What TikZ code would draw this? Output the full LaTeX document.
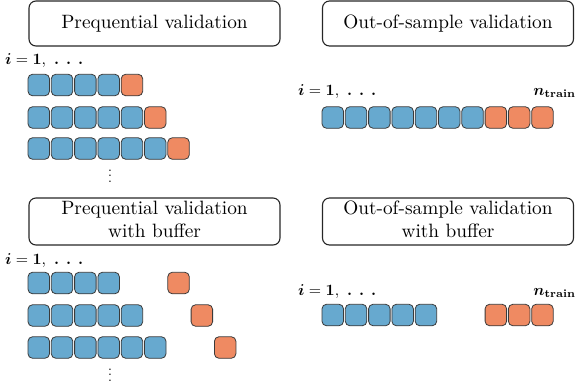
\documentclass[tikz,border=0pt]{standalone}
\usepackage{amsmath,bm,graphicx}
\definecolor{tblue}{HTML}{67A9CF}
\definecolor{torange}{HTML}{EF8A62}
\definecolor{tedge}{HTML}{3A3A3A}
\newcommand{\myTitle}[1]{\scalebox{1.93}{\begin{tabular}{@{}c@{}}#1\end{tabular}}}
\newcommand{\myIlabText}{\scalebox{1.58}{$\bm{i}=\mathbf{1},$\hspace{5pt}$\bm{.}$\hspace{4.4pt}$\bm{.}$\hspace{4.4pt}$\bm{.}$}}
\newcommand{\myNlabText}{\scalebox{1.58}{$\bm{n}_{\mathbf{train}}$}}
\begin{document}
\begin{tikzpicture}[x=1pt,y=-1pt]
\tikzset{
  titlebox/.style={draw=black!85,line width=1.1pt,rounded corners=7pt,minimum height=45pt,minimum width=251pt,inner sep=0pt,align=center,font=\fontsize{10}{12}\selectfont},
  titleboxtall/.style={titlebox,minimum height=47pt},
  sq/.style={draw=tedge,line width=0.8pt,rounded corners=4.5pt,minimum size=21.5pt,inner sep=0pt},
  bsq/.style={sq,fill=tblue},
  osq/.style={sq,fill=torange},
  mylab/.style={inner sep=0pt,font=\fontsize{10}{12}\selectfont},
}
\useasboundingbox (0,0) rectangle (581,384);
% titles
\node[titlebox] (t1) at (154.5,23.5) {\myTitle{Prequential validation}};
\node[titlebox] (t2) at (448,23.5) {\myTitle{Out-of-sample validation}};
\node[titleboxtall] (t3) at (154.5,221.5) {\myTitle{Prequential validation\\with buffer}};
\node[titleboxtall] (t4) at (448,221.5) {\myTitle{Out-of-sample validation\\with buffer}};
% labels
\node[mylab,anchor=base west] (la) at (5,64) {\myIlabText};
\node[mylab,anchor=base west] (lc) at (5,264) {\myIlabText};
\node[mylab,anchor=base west] (lb) at (298,95) {\myIlabText};
\node[mylab,anchor=base west] (ld) at (298,295) {\myIlabText};
\node[mylab,anchor=base east] (nb) at (576,95) {\myNlabText};
\node[mylab,anchor=base east] (nd) at (576,295) {\myNlabText};
% prequential
\foreach \r/\y in {1/85,2/117.5,3/148.5}{
  \pgfmathtruncatemacro{\nb}{\r+3}
  \pgfmathtruncatemacro{\nl}{\r+2}
  \foreach \k in {0,...,\nl}{\node[bsq] (p\r b\k) at (38.75+23.3*\k,\y) {};}
  \node[osq] (p\r o) at (38.75+23.3*\nb,\y) {};
}
\node[mylab] (d1) at (110,172) {\scalebox{1.4}{$\vdots$}};
% prequential with buffer
\foreach \r/\y in {1/283,2/315.5,3/347.5}{
  \pgfmathtruncatemacro{\nb}{\r+5}
  \pgfmathtruncatemacro{\nl}{\r+2}
  \foreach \k in {0,...,\nl}{\node[bsq] (q\r b\k) at (38.75+23.3*\k,\y) {};}
  \node[osq] (q\r o) at (38.75+23.3*\nb,\y) {};
}
\node[mylab] (d3) at (110,371) {\scalebox{1.4}{$\vdots$}};
% out-of-sample
\foreach \k in {0,...,6}{\node[bsq] (sb\k) at (332.75+23.3*\k,117.5) {};}
\foreach \k in {7,8,9}{\node[osq] (so\k) at (332.75+23.3*\k,117.5) {};}
% out-of-sample with buffer
\foreach \k in {0,...,4}{\node[bsq] (ub\k) at (332.75+23.3*\k,315) {};}
\foreach \k in {7,8,9}{\node[osq] (uo\k) at (332.75+23.3*\k,315) {};}
\end{tikzpicture}
\end{document}
